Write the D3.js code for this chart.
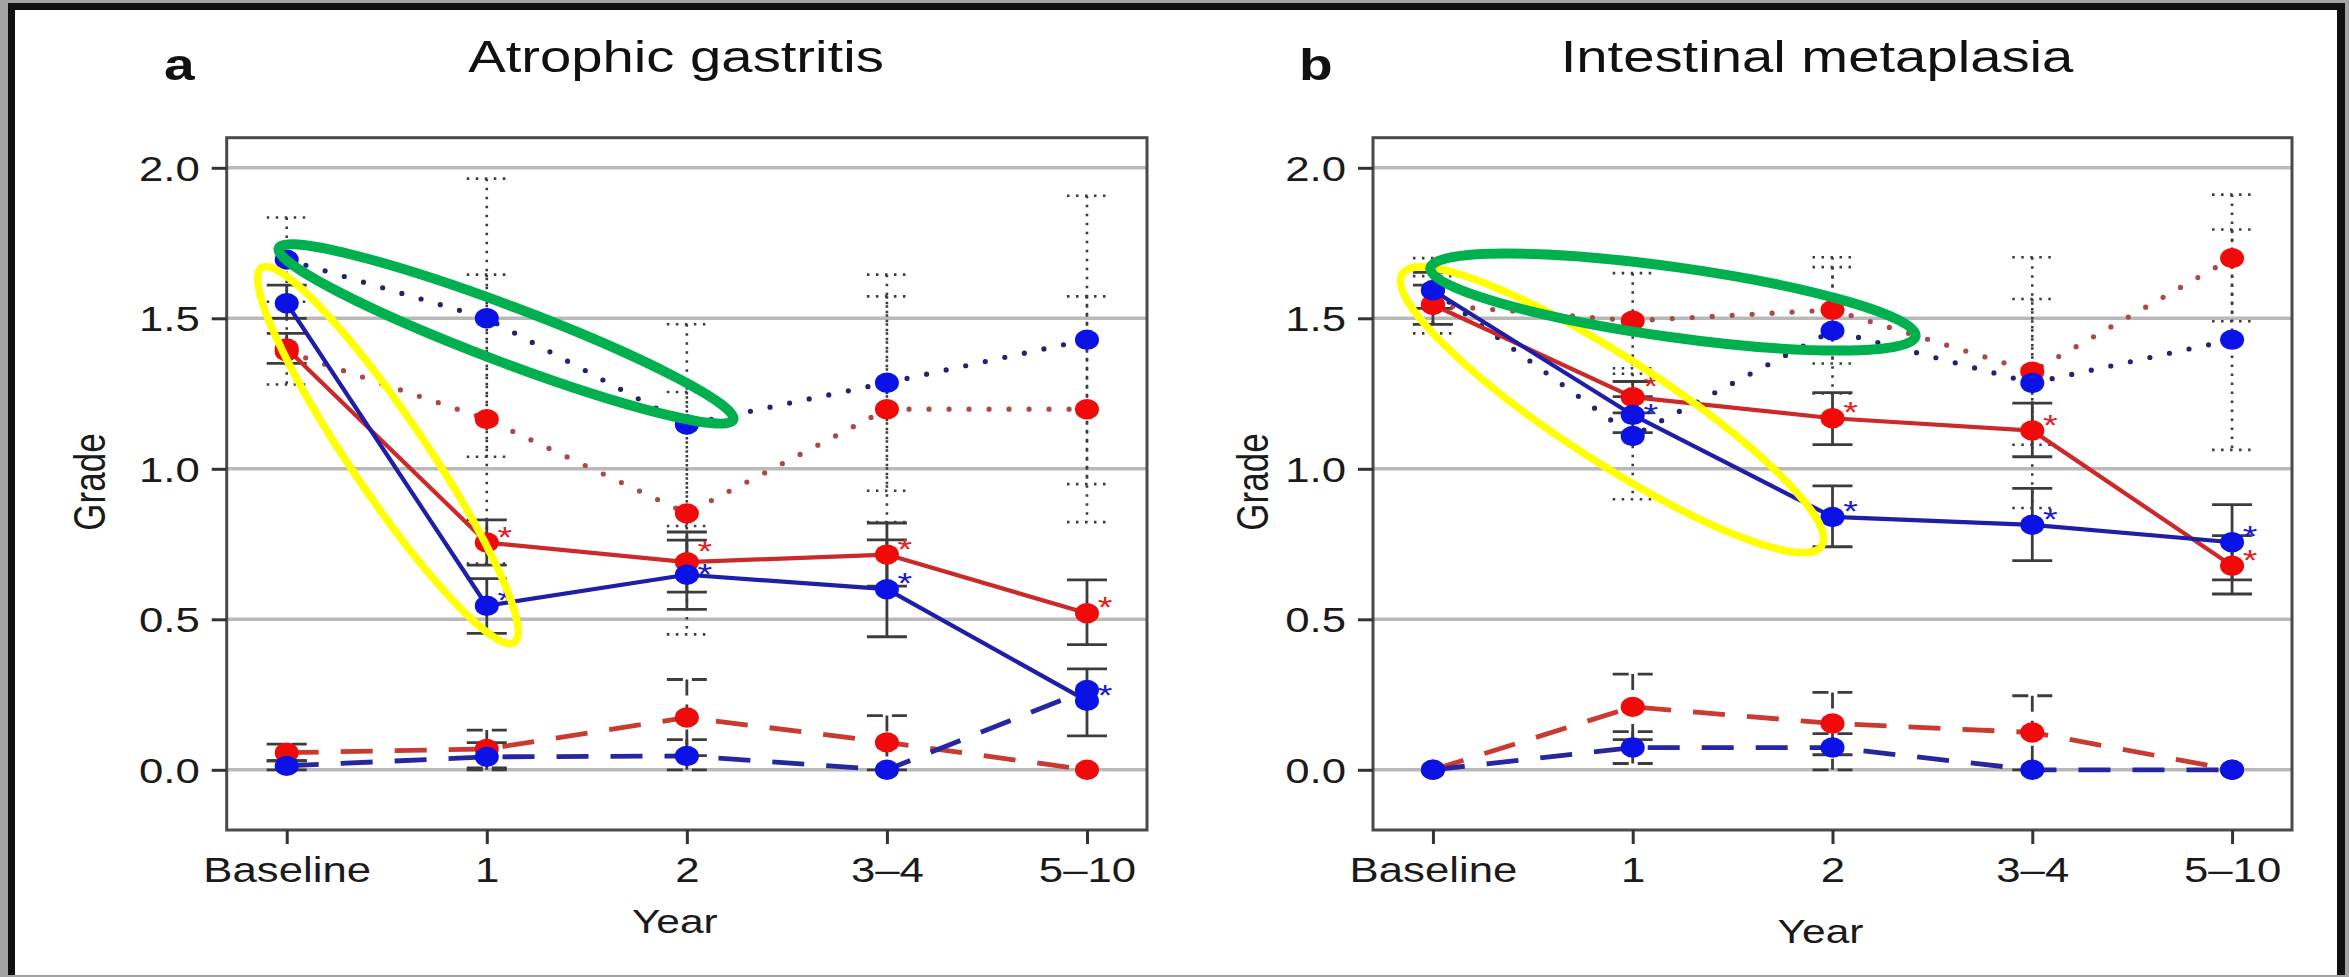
<!DOCTYPE html>
<html><head><meta charset="utf-8">
<script src="https://cdn.jsdelivr.net/npm/d3@7"></script>
<style>html,body{margin:0;padding:0;background:#fff;} svg{display:block;}</style>
</head><body>
<svg id="c" width="2349" height="977"></svg>
<script>
// ---------------- DATA ----------------
const categories = ["Baseline", "1", "2", "3–4", "5–10"];
const yTicks = [0.0, 0.5, 1.0, 1.5, 2.0];
const panelTitles = ["Atrophic gastritis", "Intestinal metaplasia"];
const panelLetters = ["a", "b"];
const xLabel = "Year";
const yLabel = "Grade";

// Panel a – Atrophic gastritis
const aRedSolid     = [1.40, 0.755, 0.69, 0.715, 0.52];
const aRedSolidLo   = [1.35, 0.68, 0.59, 0.61, 0.416];
const aRedSolidHi   = [1.45, 0.83, 0.79, 0.82, 0.631];
const aBlueSolid    = [1.55, 0.545, 0.648, 0.60, 0.229];
const aBlueSolidLo  = [1.50, 0.453, 0.533, 0.442, 0.113];
const aBlueSolidHi  = [1.61, 0.635, 0.763, 0.764, 0.335];
const aRedDot       = [1.39, 1.165, 0.852, 1.198, 1.198];
const aRedDotLo     = [1.28, 0.685, 0.45, 0.823, 0.823];
const aRedDotHi     = [1.50, 1.645, 1.255, 1.573, 1.573];
const aBlueDot      = [1.695, 1.50, 1.147, 1.286, 1.429];
const aBlueDotLo    = [1.555, 1.04, 0.81, 0.927, 0.949];
const aBlueDotHi    = [1.835, 1.964, 1.48, 1.645, 1.907];
const aRedDash      = [0.057, 0.069, 0.174, 0.091, 0.0];
const aRedDashLo    = [0.03, 0.006, 0.047, 0.0, 0.0];
const aRedDashHi    = [0.085, 0.132, 0.30, 0.18, 0.0];
const aBlueDash     = [0.013, 0.043, 0.046, 0.0, 0.265];
const aBlueDashLo   = [0.0, 0.0, 0.0, 0.0, 0.265];
const aBlueDashHi   = [0.03, 0.09, 0.10, 0.0, 0.265];

// Panel b – Intestinal metaplasia
const bRedSolid     = [1.545, 1.238, 1.168, 1.127, 0.678];
const bRedSolidLo   = [1.48, 1.186, 1.08, 1.04, 0.584];
const bRedSolidHi   = [1.61, 1.29, 1.253, 1.218, 0.778];
const bBlueSolid    = [1.593, 1.179, 0.84, 0.814, 0.756];
const bBlueSolidLo  = [1.533, 1.12, 0.741, 0.695, 0.631];
const bBlueSolidHi  = [1.653, 1.24, 0.943, 0.935, 0.881];
const bRedDot       = [1.545, 1.492, 1.528, 1.323, 1.70];
const bRedDotLo     = [1.45, 1.334, 1.35, 1.08, 1.49];
const bRedDotHi     = [1.64, 1.65, 1.703, 1.564, 1.911];
const bBlueDot      = [1.593, 1.109, 1.459, 1.285, 1.429];
const bBlueDotLo    = [1.48, 0.899, 1.25, 0.87, 1.063];
const bBlueDotHi    = [1.70, 1.316, 1.67, 1.703, 1.795];
const bRedDash      = [0.0, 0.209, 0.154, 0.124, 0.0];
const bRedDashLo    = [0.0, 0.10, 0.05, 0.0, 0.0];
const bRedDashHi    = [0.0, 0.318, 0.257, 0.246, 0.0];
const bBlueDash     = [0.0, 0.074, 0.074, 0.0, 0.0];
const bBlueDashLo   = [0.0, 0.021, 0.0, 0.0, 0.0];
const bBlueDashHi   = [0.0, 0.127, 0.12, 0.0, 0.0];

// significance asterisks (index of category) for solid series
const aRedStars  = [1, 2, 3, 4];
const aBlueStars = [1, 2, 3, 4];
const bRedStars  = [1, 2, 3, 4];
const bBlueStars = [1, 2, 3, 4];

// hand-drawn highlight ellipses: two ends in data units (category position, grade)
const aYellowEnds = [[0.874, 1.668], [2.138, 0.423]];
const aGreenEnds  = [[0.960, 1.733], [3.232, 1.163]];
const bYellowEnds = [[0.847, 1.648], [2.946, 0.744]];
const bGreenEnds  = [[0.987, 1.667], [3.416, 1.441]];

// ---------------- DRAWING ----------------
const W = 2349, H = 977;
const SX = 1.25; // horizontal stretch of the original figure's text
const FONT = "'Liberation Sans', Arial, Helvetica, sans-serif";
const svg = d3.select("#c");

// frame
svg.append("rect").attr("width", W).attr("height", H).attr("fill", "#a3a3a3");
svg.append("rect").attr("x", 8).attr("y", 3).attr("width", 2337).attr("height", 972).attr("fill", "#101010");
svg.append("rect").attr("x", 15).attr("y", 10).attr("width", 2322).attr("height", 965).attr("fill", "#ffffff");

function stext(g, x, y, str, size, anchor, opts = {}) {
  return g.append("text")
    .attr("transform", `translate(${x},${y}) scale(${SX},1)`)
    .attr("text-anchor", anchor)
    .attr("font-family", FONT)
    .attr("font-size", size)
    .attr("font-weight", opts.bold ? "bold" : "normal")
    .attr("fill", opts.fill || "#1a1a1a")
    .text(str);
}

const COL = {
  red: "#f00a0a", blue: "#0a12e6",
  redSolid: "#cc2a2a", blueSolid: "#1e1ea8",
  redDot: "#a94a4a", blueDot: "#23236e",
  redDash: "#c93a30", blueDash: "#2626a0",
  err: "#3c3c3c"
};

const panels = [
  {
    left: 226.7, right: 1147, title: panelTitles[0], letter: panelLetters[0],
    titleX: 676, letterX: 164, yearY: 933, gradeX: 105,
    series: [
      { v: aRedDash, lo: aRedDashLo, hi: aRedDashHi, type: "dash", c: "red" },
      { v: aBlueDash, lo: aBlueDashLo, hi: aBlueDashHi, type: "dash", c: "blue" },
      { v: aRedDot, lo: aRedDotLo, hi: aRedDotHi, type: "dot", c: "red" },
      { v: aBlueDot, lo: aBlueDotLo, hi: aBlueDotHi, type: "dot", c: "blue" },
      { v: aRedSolid, lo: aRedSolidLo, hi: aRedSolidHi, type: "solid", c: "red", stars: aRedStars },
      { v: aBlueSolid, lo: aBlueSolidLo, hi: aBlueSolidHi, type: "solid", c: "blue", stars: aBlueStars }
    ],
    yellow: aYellowEnds, green: aGreenEnds, yellowR: 38, greenR: 28
  },
  {
    left: 1373, right: 2292, title: panelTitles[1], letter: panelLetters[1],
    titleX: 1817, letterX: 1299, yearY: 943, gradeX: 1268,
    series: [
      { v: bRedDash, lo: bRedDashLo, hi: bRedDashHi, type: "dash", c: "red" },
      { v: bBlueDash, lo: bBlueDashLo, hi: bBlueDashHi, type: "dash", c: "blue" },
      { v: bRedDot, lo: bRedDotLo, hi: bRedDotHi, type: "dot", c: "red" },
      { v: bBlueDot, lo: bBlueDotLo, hi: bBlueDotHi, type: "dot", c: "blue" },
      { v: bRedSolid, lo: bRedSolidLo, hi: bRedSolidHi, type: "solid", c: "red", stars: bRedStars },
      { v: bBlueSolid, lo: bBlueSolidLo, hi: bBlueSolidHi, type: "solid", c: "blue", stars: bBlueStars }
    ],
    yellow: bYellowEnds, green: bGreenEnds, yellowR: 52, greenR: 35
  }
];

const TOP = 137.7, BOTTOM = 830;

panels.forEach(p => {
  const g = svg.append("g");
  const x = d3.scaleLinear().domain([0.7, 5.3]).range([p.left, p.right]);
  const y = d3.scaleLinear().domain([-0.2, 2.1]).range([BOTTOM, TOP]);

  // titles
  stext(g, p.titleX, 72, p.title, 45, "middle", { fill: "#111" });
  stext(g, p.letterX, 80, p.letter, 44, "start", { bold: true, fill: "#111" });

  // gridlines
  g.append("g").selectAll("line").data(yTicks).join("line")
    .attr("x1", p.left).attr("x2", p.right)
    .attr("y1", d => y(d)).attr("y2", d => y(d))
    .attr("stroke", "#b9b9b9").attr("stroke-width", 3.5);

  // error bars
  const errStyle = {
    solid: { dash: null, w: 2.8 },
    dot: { dash: "2.5 6.5", w: 2.6 },
    dash: { dash: "16 9", w: 2.8 }
  };
  p.series.forEach(s => {
    const st = errStyle[s.type];
    const eg = g.append("g").attr("stroke", COL.err).attr("stroke-width", st.w).attr("fill", "none");
    if (st.dash) eg.attr("stroke-dasharray", st.dash);
    s.v.forEach((v, i) => {
      const lo = s.lo[i], hi = s.hi[i];
      if (hi - lo <= 0.001) return;
      const cx = x(i + 1);
      eg.append("line").attr("x1", cx).attr("x2", cx).attr("y1", y(hi)).attr("y2", y(lo));
      [lo, hi].forEach(e => {
        eg.append("line").attr("x1", cx - 20).attr("x2", cx + 20).attr("y1", y(e)).attr("y2", y(e));
      });
    });
  });

  // lines
  const line = d3.line().x((d, i) => x(i + 1)).y(d => y(d));
  const lineStyle = {
    solid: { dash: null, w: 4.2, cap: "round" },
    dot: { dash: "0 20", w: 5.2, cap: "round" },
    dash: { dash: "32 22", w: 4.8, cap: "butt" }
  };
  p.series.forEach(s => {
    const st = lineStyle[s.type];
    const colKey = s.c + (s.type === "solid" ? "Solid" : s.type === "dot" ? "Dot" : "Dash");
    const path = g.append("path").datum(s.v)
      .attr("d", line)
      .attr("fill", "none")
      .attr("stroke", COL[colKey])
      .attr("stroke-width", st.w)
      .attr("stroke-linecap", st.cap)
      .attr("stroke-linejoin", "round");
    if (st.dash) path.attr("stroke-dasharray", st.dash);
  });

  // points
  p.series.forEach(s => {
    g.append("g").selectAll("ellipse").data(s.v).join("ellipse")
      .attr("cx", (d, i) => x(i + 1)).attr("cy", d => y(d))
      .attr("rx", 12).attr("ry", 10.2)
      .attr("fill", COL[s.c]);
  });

  // asterisks (nudged apart when a red/blue pair sits very close)
  p.series.filter(s => s.stars).forEach(s => {
    const other = p.series.find(o => o.stars && o !== s);
    s.stars.forEach(i => {
      let dy = 4;
      const gap = y(s.v[i]) - y(other.v[i]);
      if (Math.abs(gap) < 20) dy += gap <= 0 ? -5 : 5;
      stext(g, x(i + 1) + 18, y(s.v[i]) + dy, "*", 30, "middle", { fill: s.c === "red" ? "#e02424" : "#1a1ad0" });
    });
  });

  // box
  g.append("rect").attr("x", p.left).attr("y", TOP)
    .attr("width", p.right - p.left).attr("height", BOTTOM - TOP)
    .attr("fill", "none").attr("stroke", "#4a4a4a").attr("stroke-width", 3);

  // x axis
  const xa = g.append("g").attr("transform", `translate(0,${BOTTOM})`)
    .call(d3.axisBottom(x).tickValues([1, 2, 3, 4, 5]).tickFormat((d, i) => categories[i]).tickSize(14));
  xa.select(".domain").remove();
  xa.selectAll(".tick line").attr("stroke", "#333").attr("stroke-width", 3);
  xa.selectAll(".tick text")
    .attr("y", 52).attr("dy", null)
    .attr("transform", `scale(${SX},1)`)
    .attr("font-family", FONT).attr("font-size", 35).attr("fill", "#1a1a1a");

  // y axis
  const ya = g.append("g").attr("transform", `translate(${p.left},0)`)
    .call(d3.axisLeft(y).tickValues(yTicks).tickFormat(d3.format(".1f")).tickSize(15));
  ya.select(".domain").remove();
  ya.selectAll(".tick line").attr("stroke", "#333").attr("stroke-width", 3);
  ya.selectAll(".tick text")
    .attr("x", -27 / SX).attr("y", 12.5).attr("dy", null)
    .attr("transform", `scale(${SX},1)`)
    .attr("font-family", FONT).attr("font-size", 35).attr("fill", "#1a1a1a");

  // axis titles
  stext(g, (p.left + p.right) / 2 - 12, p.yearY, xLabel, 34, "middle");
  svg.append("text")
    .attr("transform", `translate(${p.gradeX},482) scale(${SX},1) rotate(-90)`)
    .attr("text-anchor", "middle").attr("font-family", FONT).attr("font-size", 35)
    .attr("fill", "#1a1a1a").text(yLabel);

  // highlight ellipses
  function ell(ends, r, color, w) {
    const [p1, p2] = ends.map(d => [x(d[0]), y(d[1])]);
    const cx = (p1[0] + p2[0]) / 2, cy = (p1[1] + p2[1]) / 2;
    const rx = Math.hypot(p2[0] - p1[0], p2[1] - p1[1]) / 2;
    const ang = Math.atan2(p2[1] - p1[1], p2[0] - p1[0]) * 180 / Math.PI;
    svg.append("ellipse")
      .attr("transform", `translate(${cx},${cy}) rotate(${ang})`)
      .attr("rx", rx).attr("ry", r)
      .attr("fill", "none").attr("stroke", color).attr("stroke-width", w);
  }
  ell(p.yellow, p.yellowR, "#ffff00", 7.5);
  ell(p.green, p.greenR, "#00b04f", 10);
});
</script>
</body></html>
